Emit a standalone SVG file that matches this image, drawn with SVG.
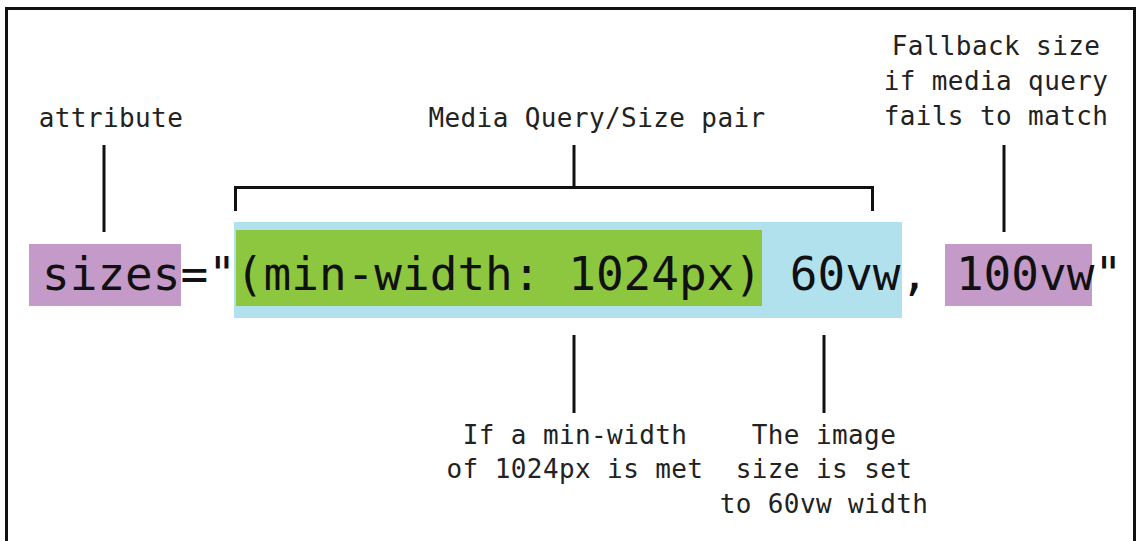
<svg xmlns="http://www.w3.org/2000/svg" width="1141" height="541" viewBox="0 0 1141 541">
<style>
.lbl{font-family:"DejaVu Sans Mono","Liberation Mono",monospace;font-size:26px;letter-spacing:0.4px;fill:#222;text-anchor:middle}
.code{font-family:"DejaVu Sans Mono","Liberation Mono",monospace;font-size:46px;fill:#111}
.ln{stroke:#111;stroke-width:3;fill:none}
</style>
<rect x="0" y="0" width="1141" height="541" fill="#fff"/>
<path d="M6.5 545 V8.5 H1134.5 V545" fill="none" stroke="#111" stroke-width="3"/>
<g id="highlights">
<rect x="29" y="244" width="152" height="62" fill="#C49AC8"/>
<rect x="234" y="222" width="668" height="96" fill="#B2E1EE"/>
<rect x="236" y="230" width="526" height="76" fill="#8DC63F"/>
<rect x="945" y="244" width="147" height="62" fill="#C49AC8"/>
</g>
<g id="code">
<text class="code" x="42" y="290">sizes="(min-width: 1024px) 60vw, 100vw"</text>
</g>
<g id="attribute"><text class="lbl" x="111" y="127">attribute</text></g>
<g id="media-query"><text class="lbl" x="597" y="127">Media Query/Size pair</text></g>
<g id="fallback">
<text class="lbl" x="996" y="55">Fallback size</text>
<text class="lbl" x="996" y="90">if media query</text>
<text class="lbl" x="996" y="125">fails to match</text>
</g>
<g id="min-width-note">
<text class="lbl" x="575" y="444">If a min-width</text>
<text class="lbl" x="575" y="478">of 1024px is met</text>
</g>
<g id="image-size-note">
<text class="lbl" x="824" y="444">The image</text>
<text class="lbl" x="824" y="478">size is set</text>
<text class="lbl" x="824" y="513">to 60vw width</text>
</g>
<g id="connectors">
<line class="ln" x1="104" y1="145" x2="104" y2="232"/>
<path class="ln" d="M235.5 211 V187.5 H872.5 V211"/>
<line class="ln" x1="574" y1="145" x2="574" y2="187"/>
<line class="ln" x1="1004" y1="145" x2="1004" y2="232"/>
<line class="ln" x1="574" y1="335" x2="574" y2="413"/>
<line class="ln" x1="824" y1="335" x2="824" y2="413"/>
</g>
</svg>
